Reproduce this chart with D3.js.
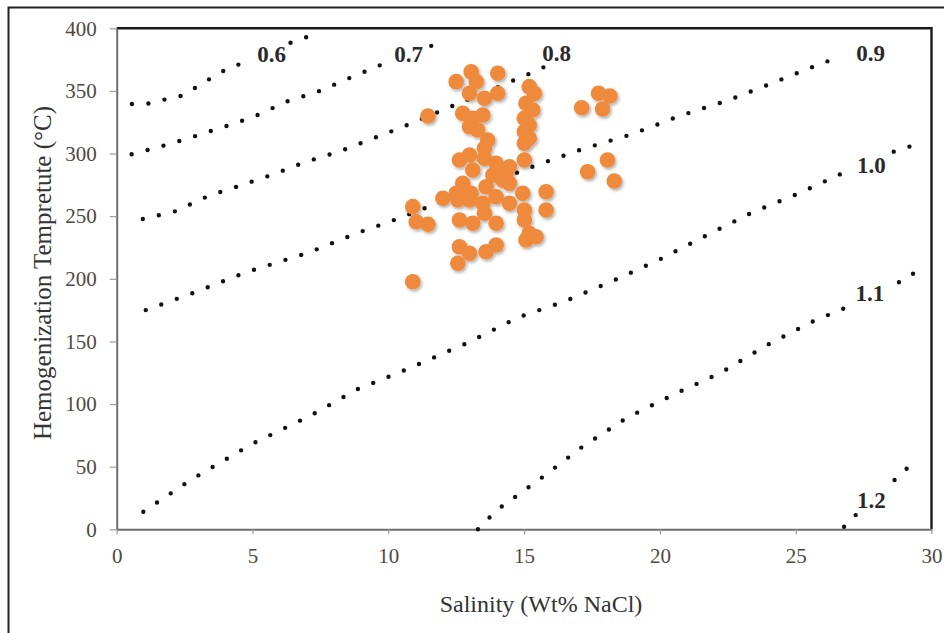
<!DOCTYPE html>
<html>
<head>
<meta charset="utf-8">
<script src="https://cdn.jsdelivr.net/npm/d3@7/dist/d3.min.js"></script>
<style>
html, body { margin: 0; padding: 0; background: #fff; }
svg { display: block; }
</style>
</head>
<body>
<div id="chart"></div>
<script>
'use strict';

// fluid inclusions: salinity (wt% NaCl) and homogenization temperature (C)
var salinity = [12.50, 13.05, 13.24, 14.03, 12.99, 13.54, 14.03, 12.74, 13.11, 13.48,
    12.99, 13.29, 13.66, 13.54, 12.62, 12.99, 13.54, 13.97, 14.46, 13.11,
    13.85, 14.34, 14.46, 12.74, 13.05, 13.60, 14.21, 12.50, 12.01, 12.56,
    12.99, 13.48, 13.97, 12.62, 13.11, 13.54, 13.97, 14.46, 12.62, 12.99,
    12.56, 13.60, 13.97,
    15.19, 15.38, 15.07, 15.32, 15.01, 15.19, 15.01, 15.19, 15.01, 15.01,
    14.95, 15.01, 15.01, 15.19, 15.07, 15.44, 15.81, 15.81,
    10.90, 11.03, 11.46, 10.90, 11.46,
    17.74, 18.16, 17.12, 17.89, 18.07, 17.34, 18.32];
var temperature = [357.4, 365.3, 357.4, 364.1, 348.1, 344.1, 348.1, 332.1, 328.1, 330.8,
    321.4, 318.8, 310.8, 304.2, 294.9, 298.9, 296.2, 292.2, 289.5, 286.9,
    282.9, 284.2, 276.2, 276.2, 268.3, 273.5, 278.9, 268.3, 264.3, 262.9,
    262.9, 260.3, 265.5, 246.9, 244.3, 252.3, 244.3, 260.3, 225.6, 220.4,
    212.4, 221.6, 227.0,
    353.4, 348.1, 340.1, 334.8, 328.1, 322.8, 317.4, 312.2, 308.2, 294.9,
    268.3, 254.9, 246.9, 236.3, 231.0, 233.6, 269.5, 254.9,
    257.6, 245.6, 243.5, 197.7, 330.0,
    348.1, 346.0, 336.6, 335.6, 294.9, 285.5, 278.1];

// density isolines (g/cm3), null = gap left for the label
var iso06 = [[0.56, 339.6], [1.2, 340], [1.74, 343], [2.36, 346], [2.9, 352.6], [3.5, 360.6],
    [4.05, 367.5], [4.6, 372], null, [6.4, 388.5], [7.0, 393]];
var iso07 = [[0.55, 299.4], [1.47, 304.7], [2.7, 312.6], [3.9, 321], [5.05, 329.4], [6.25, 341.4],
    [7.5, 350.2], [8.6, 360.6], [9.86, 372], null, [11.58, 386], [12.03, 391.5]];
var iso08 = [[0.96, 247.7], [2.17, 254], [3.4, 266.4], [4.53, 274.3], [5.76, 283.4], [6.98, 293.5],
    [8.18, 301.5], [9.31, 311], [10.5, 321], [12.25, 337], [15.17, 363.5], [15.8, 369.7],
    null, [17.4, 390]];
var iso09 = [[1.07, 175], [2.94, 189.7], [4.72, 204.9], [7.1, 221.2], [8.82, 236.3], [10.05, 245.6],
    [15.4, 290.3], [17.15, 303.6], [18.96, 315.4], [20.75, 330.2], [22.55, 342.8], [24.36, 358.2],
    [26.1, 373.3], [26.68, 376], null, [28.1, 394]];
var iso10 = [[0.98, 14], [2.7, 39.1], [4.96, 67.9], [7.18, 91.3], [8.86, 111.8], [10.68, 127.7],
    [12.96, 149.3], [14.79, 169.3], [16.46, 181.7], [18.2, 197.7], [19.95, 215], [21.69, 234.4],
    [23.4, 253], [25.12, 268.3], [26.84, 285.5], null, [28.61, 301.5], [29.25, 306]];
var iso11 = [[13.3, 0], [14.0, 15.4], [15.54, 39.4], [17.12, 65.5], [18.79, 89.1], [20.52, 107.8],
    [22.24, 125], [23.9, 146.6], [25.6, 165.7], [26.78, 176.4], null, [28.8, 197.2], [29.35, 204.4]];
var iso12 = [[26.78, 2], [27.33, 14], null, [28.64, 39.4], [29.1, 48.7]];

var isoLines = [iso06, iso07, iso08, iso09, iso10, iso11, iso12];
var isoNames = ["0.6", "0.7", "0.8", "0.9", "1.0", "1.1", "1.2"];
var isoLabelX = [5.70, 10.75, 16.2, 27.76, 27.79, 27.73, 27.79];
var isoLabelY = [379.5, 379.5, 380.3, 380.3, 290.9, 189, 23.4];

var xTicks = [0, 5, 10, 15, 20, 25, 30];
var yTicks = [0, 50, 100, 150, 200, 250, 300, 350, 400];

var width = 944, height = 633;
var serif = '"Liberation Serif", "Times New Roman", serif';

var svg = d3.select("#chart").append("svg")
    .attr("width", width)
    .attr("height", height);

svg.append("rect").attr("width", width).attr("height", height).attr("fill", "#fff");

var defs = svg.append("defs");
defs.append("filter").attr("id", "shadow")
    .attr("x", "-50%").attr("y", "-50%").attr("width", "200%").attr("height", "200%")
    .append("feDropShadow")
    .attr("dx", 1.5).attr("dy", 2).attr("stdDeviation", 1.4)
    .attr("flood-color", "#000").attr("flood-opacity", 0.3);

// outer figure frame (only left and top are visible)
svg.append("path")
    .attr("d", "M8.5,633 V7.5 H944")
    .attr("fill", "none").attr("stroke", "#222").attr("stroke-width", 2);

var x = d3.scaleLinear().domain([0, 30]).range([116.7, 931.5]);
var y = d3.scaleLinear().domain([0, 400]).range([529.3, 28.3]);

// top and right plot border
svg.append("path")
    .attr("d", "M" + x(0) + "," + y(400) + " H" + x(30) + " V" + y(0))
    .attr("fill", "none").attr("stroke", "#1a1a1a").attr("stroke-width", 2.4);

var xAxis = svg.append("g")
    .attr("transform", "translate(0," + y(0) + ")")
    .call(d3.axisBottom(x).tickValues(xTicks).tickSize(5).tickSizeOuter(0).tickPadding(14));
var yAxis = svg.append("g")
    .attr("transform", "translate(" + x(0) + ",0)")
    .call(d3.axisLeft(y).tickValues(yTicks).tickSize(7).tickSizeOuter(0).tickPadding(13));

[xAxis, yAxis].forEach(function (g) {
    g.select(".domain").attr("stroke", "#6e6e6e").attr("stroke-width", 2);
    g.selectAll(".tick line").attr("stroke", "#9a9a9a").attr("stroke-width", 1.2);
    g.selectAll(".tick text")
        .attr("fill", "#4f4843")
        .style("font-family", serif)
        .style("font-size", "21px");
});

// isolines, drawn as round dots
var line = d3.line()
    .defined(function (d) { return d !== null; })
    .x(function (d) { return x(d[0]); })
    .y(function (d) { return y(d[1]); });

svg.append("g").selectAll("path")
    .data(isoLines)
    .enter()
    .append("path")
    .attr("d", line)
    .attr("fill", "none")
    .attr("stroke", "#111")
    .attr("stroke-width", 4.4)
    .attr("stroke-linecap", "round")
    .attr("stroke-dasharray", "0,16.5");

svg.append("g").selectAll("text")
    .data(isoNames)
    .enter()
    .append("text")
    .attr("x", function (d, i) { return x(isoLabelX[i]); })
    .attr("y", function (d, i) { return y(isoLabelY[i]); })
    .attr("dy", "0.35em")
    .attr("text-anchor", "middle")
    .attr("fill", "#2a2a2a")
    .style("font-family", serif)
    .style("font-weight", "bold")
    .style("font-size", "23px")
    .text(function (d) { return d; });

// inclusion points
svg.append("g").attr("filter", "url(#shadow)").selectAll("circle")
    .data(salinity)
    .enter()
    .append("circle")
    .attr("cx", function (d) { return x(d); })
    .attr("cy", function (d, i) { return y(temperature[i]); })
    .attr("r", 7.8)
    .attr("fill", "#ef8a3c");

// axis titles
svg.append("text")
    .attr("x", 541)
    .attr("y", 612)
    .attr("text-anchor", "middle")
    .attr("fill", "#333")
    .style("font-family", serif)
    .style("font-size", "24px")
    .text("Salinity (Wt% NaCl)");

svg.append("text")
    .attr("transform", "translate(51,273) rotate(-90)")
    .attr("text-anchor", "middle")
    .attr("fill", "#333")
    .style("font-family", serif)
    .style("font-size", "25px")
    .text("Hemogenization Tempretute (°C)");
</script>
</body>
</html>
